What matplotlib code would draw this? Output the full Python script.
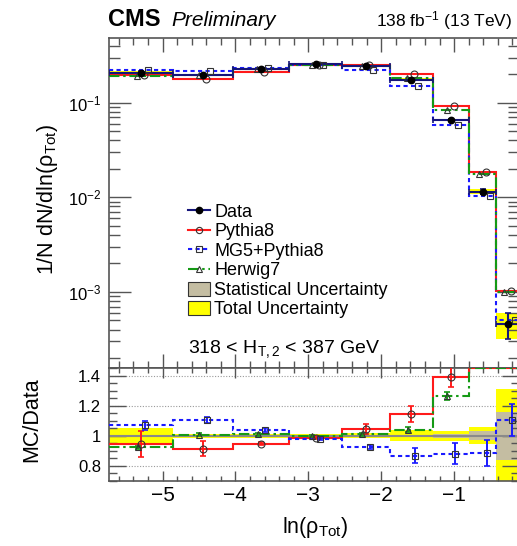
import numpy as np
import matplotlib
matplotlib.use("Agg")
import matplotlib.pyplot as plt
from matplotlib.lines import Line2D
from matplotlib.patches import Patch
from matplotlib.ticker import (LogLocator, MultipleLocator, FixedLocator,
                               FuncFormatter, NullFormatter)
from matplotlib.transforms import offset_copy

plt.rcParams["font.family"] = ["Liberation Sans", "DejaVu Sans"]
plt.rcParams["mathtext.fontset"] = "custom"
plt.rcParams["mathtext.rm"] = "Liberation Sans"
plt.rcParams["mathtext.it"] = "Liberation Sans:italic"
plt.rcParams["mathtext.bf"] = "Liberation Sans:bold"
plt.rcParams["mathtext.default"] = "regular"

# ---- measurement: normalised ln(rho_Tot) distribution ----
bin_edges = np.array([-5.73, -4.86, -4.03, -3.26, -2.54, -1.88, -1.29, -0.80, -0.42, -0.11])
data = np.array([0.205, 0.196, 0.225, 0.254, 0.242, 0.174, 0.0657, 0.0115, 4.57e-4])
pythia8 = np.array([0.194, 0.179, 0.213, 0.251, 0.253, 0.199, 0.0914, 0.0187, 1.035e-3])
mg5_pythia8 = np.array([0.219, 0.217, 0.234, 0.248, 0.224, 0.151, 0.0579, 0.0102, 5.05e-4])
herwig7 = np.array([0.189, 0.197, 0.227, 0.253, 0.244, 0.181, 0.0830, 0.0177, 9.9e-4])

# relative uncertainties of the measurement
total_unc = np.array([0.050, 0.013, 0.013, 0.010, 0.018, 0.037, 0.032, 0.057, 0.31])
stat_unc = np.array([0.004, 0.004, 0.004, 0.004, 0.005, 0.008, 0.012, 0.030, 0.16])

# relative statistical uncertainties of the simulations
pythia8_err = np.array([0.092, 0.055, 0.012, 0.008, 0.030, 0.048, 0.048, 0.04, 0.05])
mg5_err = np.array([0.028, 0.018, 0.012, 0.008, 0.012, 0.060, 0.082, 0.097, 0.097])
herwig7_err = np.array([0.010, 0.010, 0.008, 0.006, 0.008, 0.015, 0.020, 0.03, 0.05])

x_ticks = [-5, -4, -3, -2, -1]
ratio_ticks = [0.8, 1.0, 1.2, 1.4]
ratio_lim = (0.70, 1.45)
main_lim = (1.56e-4, 0.479)

centers = 0.5 * (bin_edges[1:] + bin_edges[:-1])
half_w = 0.5 * np.diff(bin_edges)

RED = "#ff1a1a"
BLUE = "#1a1aff"
GREEN = "#159a15"
NAVY = "#15157a"
MK = "#333333"
STATC = "#c4bda2"
FRAME = "#555555"

fig = plt.figure(figsize=(5.17, 5.46), dpi=100)
ax = fig.add_axes([0.2114, 0.3255, 0.7925, 0.6044])
rax = fig.add_axes([0.2114, 0.1196, 0.7925, 0.2059], sharex=ax)


def shifted(a, dx):
    return offset_copy(a.transData, fig=fig, x=dx, y=0, units="dots")


models = [
    ("Pythia8", pythia8, pythia8_err, RED, "-", "o", 3.0, 0.0),
    ("MG5+Pythia8", mg5_pythia8, mg5_err, BLUE, (0, (2.0, 1.6)), "s", 7.0, 4.0),
    ("Herwig7", herwig7, herwig7_err, GREEN, (0, (5, 1.8, 1.2, 1.8)), "^", -4.0, -3.5),
]

# ---------------- upper panel ----------------
ax.bar(bin_edges[:-1], 2 * data * total_unc, bottom=data * (1 - total_unc),
       width=np.diff(bin_edges), align="edge", color="#ffff00", linewidth=0, zorder=1)

for name, vals, err, col, ls, mk, dx_main, dx_ratio in models:
    ax.stairs(vals, bin_edges, baseline=None, color=col, linestyle=ls, linewidth=1.5, zorder=3)
    ax.plot(centers, vals, linestyle="none", marker=mk, ms=5, mfc="none", mec=MK, mew=0.8,
            transform=shifted(ax, dx_main), zorder=5)

ax.errorbar(centers, data, xerr=half_w, yerr=data * total_unc, fmt="none",
            ecolor=NAVY, elinewidth=1.5, capsize=2.5, capthick=1.2, zorder=4)
ax.plot(centers, data, linestyle="none", marker="o", ms=4.6, color="black", zorder=6)

ax.set_yscale("log")
ax.set_xlim(bin_edges[0], bin_edges[-1])
ax.set_ylim(*main_lim)
ax.yaxis.set_major_locator(LogLocator(base=10, numticks=10))
ax.yaxis.set_minor_locator(LogLocator(base=10, subs=np.arange(2, 10), numticks=20))
ax.yaxis.set_minor_formatter(NullFormatter())
ax.yaxis.set_major_formatter(FuncFormatter(lambda v, p: r"10$^{%d}$" % round(np.log10(v))))
ax.set_ylabel(r"1/N dN/dln(ρ$_{Tot}$)", fontsize=15.5, va="center")
ax.yaxis.set_label_coords(-0.15, 0.513)

# ---------------- ratio panel ----------------
rax.bar(bin_edges[:-1], 2 * total_unc, bottom=1 - total_unc, width=np.diff(bin_edges),
        align="edge", color="#ffff00", linewidth=0, zorder=1)
rax.bar(bin_edges[:-1], 2 * stat_unc, bottom=1 - stat_unc, width=np.diff(bin_edges),
        align="edge", color=STATC, linewidth=0, zorder=1.5)
rax.axhline(1.0, color="#8a8a8a", linewidth=1.5, zorder=2)
for t in ratio_ticks:
    if t != 1.0:
        rax.axhline(t, color="#9a9a9a", linewidth=0.8, linestyle=(0, (1, 1.5)), zorder=0.5)

for name, vals, err, col, ls, mk, dx_main, dx_ratio in models:
    ratio = vals / data
    rax.stairs(np.minimum(ratio, ratio_lim[1]), bin_edges, baseline=None,
               color=col, linestyle=ls, linewidth=1.5, zorder=3)
    inside = ratio < ratio_lim[1]
    rax.errorbar(centers[inside], ratio[inside], yerr=(ratio * err)[inside], fmt="none",
                 ecolor=col, elinewidth=1.4, capsize=2, capthick=1.2,
                 transform=shifted(rax, dx_ratio), zorder=4)
    rax.plot(centers[inside], ratio[inside], linestyle="none", marker=mk, ms=5, mfc="none",
             mec=MK, mew=0.8, transform=shifted(rax, dx_ratio), zorder=5)

rax.set_ylim(*ratio_lim)
rax.yaxis.set_major_locator(FixedLocator(ratio_ticks))
rax.yaxis.set_minor_locator(MultipleLocator(0.05))
rax.yaxis.set_major_formatter(FuncFormatter(lambda v, p: "%g" % v))
rax.xaxis.set_major_locator(FixedLocator(x_ticks))
rax.xaxis.set_minor_locator(MultipleLocator(0.2))
rax.set_ylabel("MC/Data", fontsize=15.5, va="center")
rax.yaxis.set_label_coords(-0.189, 0.54)
rax.set_xlabel(r"ln(ρ$_{Tot}$)", fontsize=15.5, va="center")
rax.xaxis.set_label_coords(0.502, -0.412)

# ---------------- frames and ticks ----------------
for a in (ax, rax):
    for s in a.spines.values():
        s.set_color(FRAME)
        s.set_linewidth(1.2)
    a.tick_params(which="both", direction="in", top=True, right=True, color=FRAME, width=1.0)

ax.tick_params(axis="x", which="both", labelbottom=False)
ax.tick_params(axis="x", which="major", length=10)
ax.tick_params(axis="x", which="minor", length=5)
ax.tick_params(axis="y", which="major", length=16, labelsize=12, pad=6)
ax.tick_params(axis="y", which="minor", length=8)
rax.tick_params(axis="x", which="major", length=7, labelsize=15, pad=4)
rax.tick_params(axis="x", which="minor", length=3.5)
rax.tick_params(axis="y", which="major", length=12, labelsize=12, pad=6)
rax.tick_params(axis="y", which="minor", length=5.5)

# ---------------- legend and labels ----------------
handles = [
    Line2D([], [], color=NAVY, lw=1.5, marker="o", ms=4.5, mfc="black", mec="black"),
    Line2D([], [], color=RED, lw=1.5, marker="o", ms=4.5, mfc="none", mec=MK, mew=0.8),
    Line2D([], [], color=BLUE, lw=1.5, ls=(0, (2.0, 1.6)), marker="s", ms=4.5, mfc="none", mec=MK, mew=0.8),
    Line2D([], [], color=GREEN, lw=1.5, ls=(0, (5, 1.8, 1.2, 1.8)), marker="^", ms=4.5, mfc="none", mec=MK, mew=0.8),
    Patch(facecolor=STATC, edgecolor=MK, linewidth=0.8),
    Patch(facecolor="#ffff00", edgecolor=MK, linewidth=0.8),
]
labels = ["Data", "Pythia8", "MG5+Pythia8", "Herwig7",
          "Statistical Uncertainty", "Total Uncertainty"]
ax.legend(handles, labels, loc="upper left", bbox_to_anchor=(0.192, 0.499),
          frameon=False, fontsize=13, handlelength=1.2, handleheight=0.8,
          handletextpad=0.25, labelspacing=0.13, borderpad=0, borderaxespad=0)

ax.text(0.192, 0.057, r"318 < H$_{T,2}$ < 387 GeV", transform=ax.transAxes,
        fontsize=14, ha="left", va="center")

fig.text(0.209, 0.9524, "CMS", fontsize=17, fontweight="bold", ha="left", va="baseline")
fig.text(0.332, 0.9524, "Preliminary", fontsize=15, fontstyle="italic", ha="left", va="baseline")
fig.text(0.990, 0.951, r"138 fb$^{-1}$ (13 TeV)", fontsize=12.5, ha="right", va="baseline")

fig.savefig("out.png", dpi=100)
